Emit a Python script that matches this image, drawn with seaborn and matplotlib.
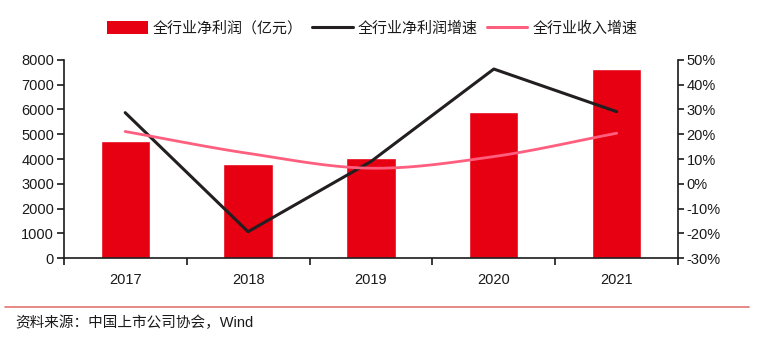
import numpy as np
import pandas as pd
import matplotlib
matplotlib.use("Agg")
import matplotlib.pyplot as plt
from matplotlib.lines import Line2D
from matplotlib.patches import Patch
from matplotlib.ticker import FuncFormatter, FixedLocator
import seaborn as sns

years = ["2017", "2018", "2019", "2020", "2021"]
net_profit = [4730, 3790, 4060, 5910, 7630]          # 亿元
profit_growth = [28.7, -19.3, 9.0, 46.3, 29.1]       # %
revenue_growth = [21.1, 12.3, 6.3, 11.0, 20.4]       # %

legend_labels = ["全行业净利润（亿元）", "全行业净利润增速", "全行业收入增速"]
source_text = "资料来源：中国上市公司协会，Wind"

sns.set_theme(style="white")
plt.rcParams["font.family"] = ["Liberation Sans", "Noto Sans CJK SC", "DejaVu Sans"]
plt.rcParams["axes.unicode_minus"] = False

BAR = "#e60012"
BLACK = "#231f20"
PINK = "#ff5f7e"
TXT = "#1a1a1a"

fig = plt.figure(figsize=(7.68, 3.42), dpi=100)
ax = fig.add_axes([0.083, 0.245, 0.8, 0.58])

df = pd.DataFrame({"year": years, "profit": net_profit})
sns.barplot(data=df, x="year", y="profit", color=BAR, width=0.4,
            saturation=1, ax=ax, zorder=2)
ax.set_xlim(-0.5, 4.5)
ax.set_ylim(0, 8000)
ax.set_yticks(np.arange(0, 8001, 1000))
ax.set_xlabel("")
ax.set_ylabel("")

ax2 = ax.twinx()
x = np.arange(len(years))
sns.lineplot(x=x, y=profit_growth, color=BLACK, linewidth=2.2, ax=ax2,
             sort=False, zorder=3)

# smooth (Catmull-Rom) rendering of the revenue growth series
def catmull(xs, ys, n=30):
    xs = np.asarray(xs, float); ys = np.asarray(ys, float)
    px = np.concatenate([[2 * xs[0] - xs[1]], xs, [2 * xs[-1] - xs[-2]]])
    py = np.concatenate([[2 * ys[0] - ys[1]], ys, [2 * ys[-1] - ys[-2]]])
    ox, oy = [], []
    for i in range(1, len(px) - 2):
        t = np.linspace(0, 1, n)
        for arr, out in ((px, ox), (py, oy)):
            p0, p1, p2, p3 = arr[i - 1], arr[i], arr[i + 1], arr[i + 2]
            out.extend(0.5 * ((2 * p1) + (-p0 + p2) * t +
                              (2 * p0 - 5 * p1 + 4 * p2 - p3) * t ** 2 +
                              (-p0 + 3 * p1 - 3 * p2 + p3) * t ** 3))
    return np.array(ox), np.array(oy)

sx, sy = catmull(x, revenue_growth)
sns.lineplot(x=sx, y=sy, color=PINK, linewidth=2.0, ax=ax2, sort=False,
             zorder=3)
ax2.set_ylim(-30, 50)
ax2.set_yticks(np.arange(-30, 51, 10))
ax2.yaxis.set_major_formatter(FuncFormatter(lambda v, p: f"{int(v)}%"))
ax2.set_xlim(-0.5, 4.5)

# spines & ticks
for a in (ax, ax2):
    for s in a.spines.values():
        s.set_visible(False)
ax.spines["left"].set_visible(True)
ax.spines["bottom"].set_visible(True)
ax2.spines["right"].set_visible(True)
for s in (ax.spines["left"], ax.spines["bottom"], ax2.spines["right"]):
    s.set_color(TXT)
    s.set_linewidth(1.2)

ax.tick_params(axis="y", left=True, direction="out", length=5, width=1.2,
               color=TXT, labelsize=10.5, labelcolor=TXT, pad=2)
ax2.tick_params(axis="y", right=True, direction="out", length=4, width=1.2,
                color=TXT, labelsize=10.5, labelcolor=TXT, pad=2)
ax.xaxis.set_minor_locator(FixedLocator(np.arange(-0.5, 4.6, 1)))
ax.tick_params(axis="x", which="major", bottom=False, labelsize=10.5,
               labelcolor=TXT, pad=5)
ax.tick_params(axis="x", which="minor", bottom=True, direction="out",
               length=5, width=1.2, color=TXT)
ax.grid(False)
ax2.grid(False)

handles = [Patch(facecolor=BAR, edgecolor="none"),
           Line2D([], [], color=BLACK, lw=2.2),
           Line2D([], [], color=PINK, lw=2.2)]
fig.legend(handles, legend_labels, loc="center", bbox_to_anchor=(0.485, 0.917),
           ncol=3, frameon=False, fontsize=10.8, handlelength=2.7,
           handleheight=0.9, handletextpad=0.35, columnspacing=0.6,
           labelcolor=TXT)

fig.add_artist(Line2D([0.007, 0.975], [0.102, 0.102], color="#d9534f",
                      lw=1.2, transform=fig.transFigure, alpha=0.8))
fig.text(0.02, 0.055, source_text, fontsize=10.5, color=TXT, va="center")

fig.savefig("out.png", dpi=100, facecolor="white")
